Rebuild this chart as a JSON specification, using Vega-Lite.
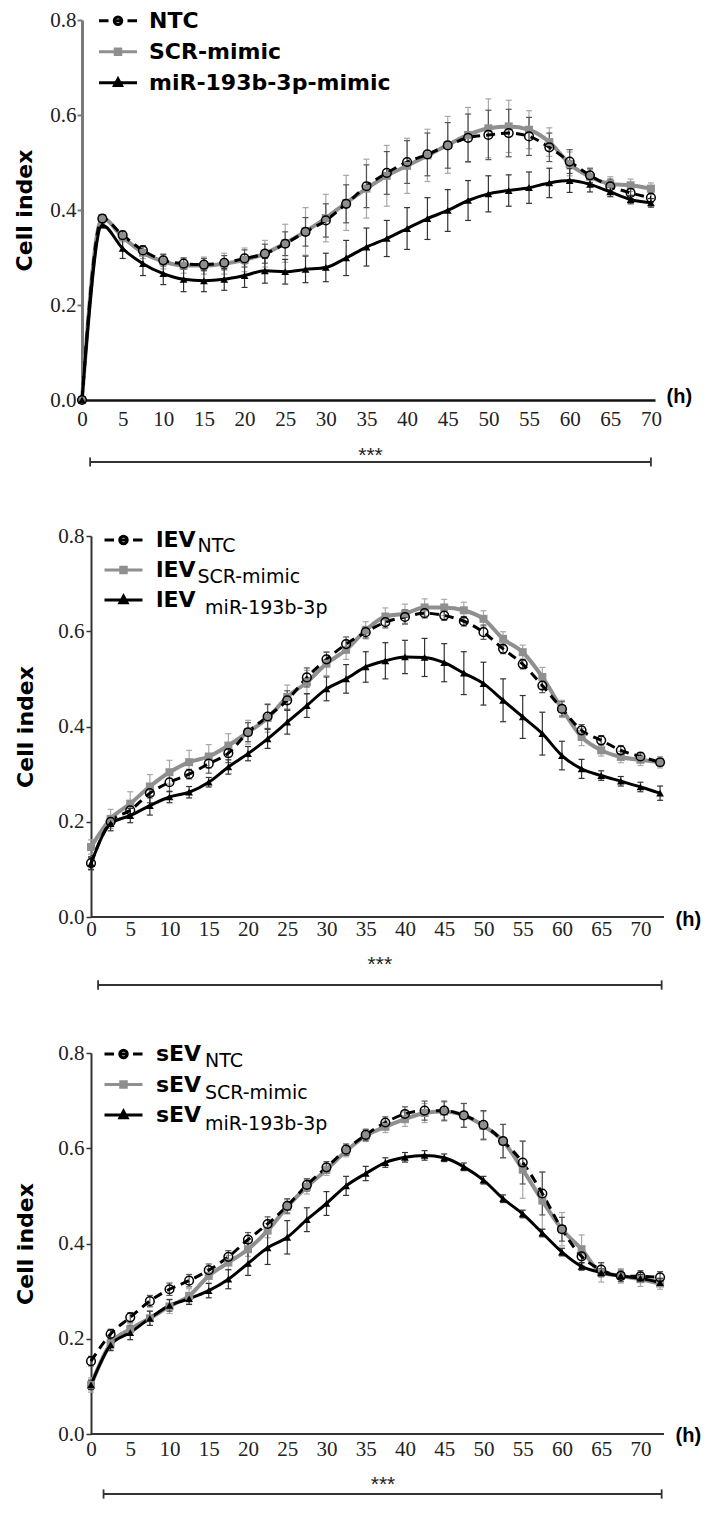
{
"$schema": "https://vega.github.io/schema/vega-lite/v6.json",
"background": "white",
"padding": {"top": 9, "left": 13, "right": 2, "bottom": 5},
"spacing": 136,
"bounds": "flush",
"config": {"view": {"stroke": null}, "axis": {"grid": false, "labelFlush": false, "labelOverlap": false}},
"resolve": {"scale": {"shape": "independent", "size": "independent", "fill": "independent", "stroke": "independent"}},
"datasets": {
"d1": [
{"series":"NTC","hour":0,"value":0,"sd":0},{"series":"NTC","hour":2.5,"value":0.382,"sd":0.005},{"series":"NTC","hour":5,"value":0.347,"sd":0.008},{"series":"NTC","hour":7.5,"value":0.315,"sd":0.01},{"series":"NTC","hour":10,"value":0.294,"sd":0.012},{"series":"NTC","hour":12.5,"value":0.287,"sd":0.012},{"series":"NTC","hour":15,"value":0.285,"sd":0.013},{"series":"NTC","hour":17.5,"value":0.289,"sd":0.015},{"series":"NTC","hour":20,"value":0.298,"sd":0.018},{"series":"NTC","hour":22.5,"value":0.308,"sd":0.02},{"series":"NTC","hour":25,"value":0.329,"sd":0.025},{"series":"NTC","hour":27.5,"value":0.354,"sd":0.03},{"series":"NTC","hour":30,"value":0.378,"sd":0.035},{"series":"NTC","hour":32.5,"value":0.413,"sd":0.04},{"series":"NTC","hour":35,"value":0.45,"sd":0.045},{"series":"NTC","hour":37.5,"value":0.478,"sd":0.045},{"series":"NTC","hour":40,"value":0.501,"sd":0.045},{"series":"NTC","hour":42.5,"value":0.517,"sd":0.045},{"series":"NTC","hour":45,"value":0.536,"sd":0.048},{"series":"NTC","hour":47.5,"value":0.552,"sd":0.05},{"series":"NTC","hour":50,"value":0.558,"sd":0.052},{"series":"NTC","hour":52.5,"value":0.562,"sd":0.05},{"series":"NTC","hour":55,"value":0.555,"sd":0.04},{"series":"NTC","hour":57.5,"value":0.532,"sd":0.03},{"series":"NTC","hour":60,"value":0.502,"sd":0.025},{"series":"NTC","hour":62.5,"value":0.473,"sd":0.015},{"series":"NTC","hour":65,"value":0.45,"sd":0.015},{"series":"NTC","hour":67.5,"value":0.436,"sd":0.012},{"series":"NTC","hour":70,"value":0.426,"sd":0.01},
{"series":"SCR-mimic","hour":0,"value":0,"sd":0},{"series":"SCR-mimic","hour":2.5,"value":0.383,"sd":0.006},{"series":"SCR-mimic","hour":5,"value":0.343,"sd":0.01},{"series":"SCR-mimic","hour":7.5,"value":0.31,"sd":0.012},{"series":"SCR-mimic","hour":10,"value":0.292,"sd":0.016},{"series":"SCR-mimic","hour":12.5,"value":0.283,"sd":0.016},{"series":"SCR-mimic","hour":15,"value":0.283,"sd":0.018},{"series":"SCR-mimic","hour":17.5,"value":0.287,"sd":0.022},{"series":"SCR-mimic","hour":20,"value":0.295,"sd":0.025},{"series":"SCR-mimic","hour":22.5,"value":0.308,"sd":0.028},{"series":"SCR-mimic","hour":25,"value":0.33,"sd":0.04},{"series":"SCR-mimic","hour":27.5,"value":0.355,"sd":0.05},{"series":"SCR-mimic","hour":30,"value":0.383,"sd":0.05},{"series":"SCR-mimic","hour":32.5,"value":0.415,"sd":0.058},{"series":"SCR-mimic","hour":35,"value":0.445,"sd":0.062},{"series":"SCR-mimic","hour":37.5,"value":0.472,"sd":0.064},{"series":"SCR-mimic","hour":40,"value":0.493,"sd":0.058},{"series":"SCR-mimic","hour":42.5,"value":0.515,"sd":0.055},{"series":"SCR-mimic","hour":45,"value":0.537,"sd":0.06},{"series":"SCR-mimic","hour":47.5,"value":0.558,"sd":0.058},{"series":"SCR-mimic","hour":50,"value":0.572,"sd":0.062},{"series":"SCR-mimic","hour":52.5,"value":0.576,"sd":0.055},{"series":"SCR-mimic","hour":55,"value":0.569,"sd":0.04},{"series":"SCR-mimic","hour":57.5,"value":0.543,"sd":0.03},{"series":"SCR-mimic","hour":60,"value":0.497,"sd":0.025},{"series":"SCR-mimic","hour":62.5,"value":0.47,"sd":0.015},{"series":"SCR-mimic","hour":65,"value":0.455,"sd":0.015},{"series":"SCR-mimic","hour":67.5,"value":0.452,"sd":0.013},{"series":"SCR-mimic","hour":70,"value":0.445,"sd":0.012},
{"series":"miR-193b-3p","hour":0,"value":0,"sd":0},{"series":"miR-193b-3p","hour":2.5,"value":0.368,"sd":0.005},{"series":"miR-193b-3p","hour":5,"value":0.319,"sd":0.021},{"series":"miR-193b-3p","hour":7.5,"value":0.287,"sd":0.025},{"series":"miR-193b-3p","hour":10,"value":0.266,"sd":0.023},{"series":"miR-193b-3p","hour":12.5,"value":0.254,"sd":0.026},{"series":"miR-193b-3p","hour":15,"value":0.251,"sd":0.023},{"series":"miR-193b-3p","hour":17.5,"value":0.254,"sd":0.023},{"series":"miR-193b-3p","hour":20,"value":0.262,"sd":0.025},{"series":"miR-193b-3p","hour":22.5,"value":0.272,"sd":0.026},{"series":"miR-193b-3p","hour":25,"value":0.27,"sd":0.026},{"series":"miR-193b-3p","hour":27.5,"value":0.275,"sd":0.028},{"series":"miR-193b-3p","hour":30,"value":0.279,"sd":0.03},{"series":"miR-193b-3p","hour":32.5,"value":0.299,"sd":0.037},{"series":"miR-193b-3p","hour":35,"value":0.322,"sd":0.04},{"series":"miR-193b-3p","hour":37.5,"value":0.34,"sd":0.038},{"series":"miR-193b-3p","hour":40,"value":0.361,"sd":0.044},{"series":"miR-193b-3p","hour":42.5,"value":0.382,"sd":0.044},{"series":"miR-193b-3p","hour":45,"value":0.399,"sd":0.044},{"series":"miR-193b-3p","hour":47.5,"value":0.42,"sd":0.042},{"series":"miR-193b-3p","hour":50,"value":0.434,"sd":0.038},{"series":"miR-193b-3p","hour":52.5,"value":0.441,"sd":0.033},{"series":"miR-193b-3p","hour":55,"value":0.447,"sd":0.033},{"series":"miR-193b-3p","hour":57.5,"value":0.457,"sd":0.031},{"series":"miR-193b-3p","hour":60,"value":0.462,"sd":0.025},{"series":"miR-193b-3p","hour":62.5,"value":0.454,"sd":0.016},{"series":"miR-193b-3p","hour":65,"value":0.438,"sd":0.01},{"series":"miR-193b-3p","hour":67.5,"value":0.422,"sd":0.009},{"series":"miR-193b-3p","hour":70,"value":0.415,"sd":0.009}
],
"d2": [
{"series":"NTC","hour":0,"value":0.113,"sd":0.014},{"series":"NTC","hour":2.5,"value":0.2,"sd":0.01},{"series":"NTC","hour":5,"value":0.224,"sd":0.015},{"series":"NTC","hour":7.5,"value":0.26,"sd":0.02},{"series":"NTC","hour":10,"value":0.283,"sd":0.02},{"series":"NTC","hour":12.5,"value":0.3,"sd":0.01},{"series":"NTC","hour":15,"value":0.322,"sd":0.02},{"series":"NTC","hour":17.5,"value":0.344,"sd":0.02},{"series":"NTC","hour":20,"value":0.388,"sd":0.02},{"series":"NTC","hour":22.5,"value":0.421,"sd":0.025},{"series":"NTC","hour":25,"value":0.455,"sd":0.02},{"series":"NTC","hour":27.5,"value":0.503,"sd":0.02},{"series":"NTC","hour":30,"value":0.541,"sd":0.015},{"series":"NTC","hour":32.5,"value":0.573,"sd":0.015},{"series":"NTC","hour":35,"value":0.598,"sd":0.012},{"series":"NTC","hour":37.5,"value":0.619,"sd":0.012},{"series":"NTC","hour":40,"value":0.63,"sd":0.015},{"series":"NTC","hour":42.5,"value":0.638,"sd":0.01},{"series":"NTC","hour":45,"value":0.633,"sd":0.01},{"series":"NTC","hour":47.5,"value":0.621,"sd":0.01},{"series":"NTC","hour":50,"value":0.598,"sd":0.015},{"series":"NTC","hour":52.5,"value":0.563,"sd":0.01},{"series":"NTC","hour":55,"value":0.531,"sd":0.01},{"series":"NTC","hour":57.5,"value":0.486,"sd":0.015},{"series":"NTC","hour":60,"value":0.437,"sd":0.015},{"series":"NTC","hour":62.5,"value":0.392,"sd":0.012},{"series":"NTC","hour":65,"value":0.371,"sd":0.01},{"series":"NTC","hour":67.5,"value":0.35,"sd":0.01},{"series":"NTC","hour":70,"value":0.337,"sd":0.008},{"series":"NTC","hour":72.5,"value":0.325,"sd":0.008},
{"series":"SCR-mimic","hour":0,"value":0.147,"sd":0.015},{"series":"SCR-mimic","hour":2.5,"value":0.206,"sd":0.02},{"series":"SCR-mimic","hour":5,"value":0.238,"sd":0.025},{"series":"SCR-mimic","hour":7.5,"value":0.274,"sd":0.025},{"series":"SCR-mimic","hour":10,"value":0.304,"sd":0.025},{"series":"SCR-mimic","hour":12.5,"value":0.325,"sd":0.025},{"series":"SCR-mimic","hour":15,"value":0.337,"sd":0.025},{"series":"SCR-mimic","hour":17.5,"value":0.36,"sd":0.025},{"series":"SCR-mimic","hour":20,"value":0.388,"sd":0.025},{"series":"SCR-mimic","hour":22.5,"value":0.418,"sd":0.03},{"series":"SCR-mimic","hour":25,"value":0.462,"sd":0.025},{"series":"SCR-mimic","hour":27.5,"value":0.493,"sd":0.025},{"series":"SCR-mimic","hour":30,"value":0.532,"sd":0.025},{"series":"SCR-mimic","hour":32.5,"value":0.561,"sd":0.02},{"series":"SCR-mimic","hour":35,"value":0.602,"sd":0.018},{"series":"SCR-mimic","hour":37.5,"value":0.631,"sd":0.018},{"series":"SCR-mimic","hour":40,"value":0.637,"sd":0.02},{"series":"SCR-mimic","hour":42.5,"value":0.65,"sd":0.018},{"series":"SCR-mimic","hour":45,"value":0.65,"sd":0.017},{"series":"SCR-mimic","hour":47.5,"value":0.644,"sd":0.017},{"series":"SCR-mimic","hour":50,"value":0.626,"sd":0.017},{"series":"SCR-mimic","hour":52.5,"value":0.584,"sd":0.015},{"series":"SCR-mimic","hour":55,"value":0.556,"sd":0.015},{"series":"SCR-mimic","hour":57.5,"value":0.504,"sd":0.02},{"series":"SCR-mimic","hour":60,"value":0.437,"sd":0.018},{"series":"SCR-mimic","hour":62.5,"value":0.378,"sd":0.018},{"series":"SCR-mimic","hour":65,"value":0.35,"sd":0.012},{"series":"SCR-mimic","hour":67.5,"value":0.336,"sd":0.012},{"series":"SCR-mimic","hour":70,"value":0.33,"sd":0.012},{"series":"SCR-mimic","hour":72.5,"value":0.325,"sd":0.012},
{"series":"miR-193b-3p","hour":0,"value":0.112,"sd":0.012},{"series":"miR-193b-3p","hour":2.5,"value":0.196,"sd":0.015},{"series":"miR-193b-3p","hour":5,"value":0.213,"sd":0.015},{"series":"miR-193b-3p","hour":7.5,"value":0.234,"sd":0.02},{"series":"miR-193b-3p","hour":10,"value":0.252,"sd":0.012},{"series":"miR-193b-3p","hour":12.5,"value":0.262,"sd":0.012},{"series":"miR-193b-3p","hour":15,"value":0.283,"sd":0.01},{"series":"miR-193b-3p","hour":17.5,"value":0.315,"sd":0.015},{"series":"miR-193b-3p","hour":20,"value":0.343,"sd":0.015},{"series":"miR-193b-3p","hour":22.5,"value":0.374,"sd":0.02},{"series":"miR-193b-3p","hour":25,"value":0.409,"sd":0.025},{"series":"miR-193b-3p","hour":27.5,"value":0.444,"sd":0.025},{"series":"miR-193b-3p","hour":30,"value":0.479,"sd":0.025},{"series":"miR-193b-3p","hour":32.5,"value":0.5,"sd":0.03},{"series":"miR-193b-3p","hour":35,"value":0.525,"sd":0.032},{"series":"miR-193b-3p","hour":37.5,"value":0.538,"sd":0.038},{"series":"miR-193b-3p","hour":40,"value":0.546,"sd":0.035},{"series":"miR-193b-3p","hour":42.5,"value":0.545,"sd":0.04},{"series":"miR-193b-3p","hour":45,"value":0.534,"sd":0.04},{"series":"miR-193b-3p","hour":47.5,"value":0.512,"sd":0.045},{"series":"miR-193b-3p","hour":50,"value":0.49,"sd":0.045},{"series":"miR-193b-3p","hour":52.5,"value":0.455,"sd":0.045},{"series":"miR-193b-3p","hour":55,"value":0.42,"sd":0.045},{"series":"miR-193b-3p","hour":57.5,"value":0.385,"sd":0.045},{"series":"miR-193b-3p","hour":60,"value":0.339,"sd":0.03},{"series":"miR-193b-3p","hour":62.5,"value":0.311,"sd":0.02},{"series":"miR-193b-3p","hour":65,"value":0.297,"sd":0.01},{"series":"miR-193b-3p","hour":67.5,"value":0.285,"sd":0.01},{"series":"miR-193b-3p","hour":70,"value":0.273,"sd":0.01},{"series":"miR-193b-3p","hour":72.5,"value":0.26,"sd":0.015}
],
"d3": [
{"series":"NTC","hour":0,"value":0.153,"sd":0.01},{"series":"NTC","hour":2.5,"value":0.21,"sd":0.01},{"series":"NTC","hour":5,"value":0.245,"sd":0.01},{"series":"NTC","hour":7.5,"value":0.279,"sd":0.012},{"series":"NTC","hour":10,"value":0.304,"sd":0.013},{"series":"NTC","hour":12.5,"value":0.322,"sd":0.013},{"series":"NTC","hour":15,"value":0.344,"sd":0.013},{"series":"NTC","hour":17.5,"value":0.372,"sd":0.013},{"series":"NTC","hour":20,"value":0.408,"sd":0.015},{"series":"NTC","hour":22.5,"value":0.441,"sd":0.015},{"series":"NTC","hour":25,"value":0.479,"sd":0.015},{"series":"NTC","hour":27.5,"value":0.523,"sd":0.013},{"series":"NTC","hour":30,"value":0.56,"sd":0.012},{"series":"NTC","hour":32.5,"value":0.597,"sd":0.012},{"series":"NTC","hour":35,"value":0.628,"sd":0.012},{"series":"NTC","hour":37.5,"value":0.654,"sd":0.012},{"series":"NTC","hour":40,"value":0.672,"sd":0.015},{"series":"NTC","hour":42.5,"value":0.679,"sd":0.02},{"series":"NTC","hour":45,"value":0.679,"sd":0.02},{"series":"NTC","hour":47.5,"value":0.669,"sd":0.025},{"series":"NTC","hour":50,"value":0.649,"sd":0.03},{"series":"NTC","hour":52.5,"value":0.615,"sd":0.035},{"series":"NTC","hour":55,"value":0.57,"sd":0.045},{"series":"NTC","hour":57.5,"value":0.505,"sd":0.045},{"series":"NTC","hour":60,"value":0.43,"sd":0.025},{"series":"NTC","hour":62.5,"value":0.373,"sd":0.02},{"series":"NTC","hour":65,"value":0.345,"sd":0.015},{"series":"NTC","hour":67.5,"value":0.332,"sd":0.012},{"series":"NTC","hour":70,"value":0.331,"sd":0.012},{"series":"NTC","hour":72.5,"value":0.329,"sd":0.012},
{"series":"SCR-mimic","hour":0,"value":0.103,"sd":0.015},{"series":"SCR-mimic","hour":2.5,"value":0.19,"sd":0.012},{"series":"SCR-mimic","hour":5,"value":0.22,"sd":0.012},{"series":"SCR-mimic","hour":7.5,"value":0.243,"sd":0.015},{"series":"SCR-mimic","hour":10,"value":0.268,"sd":0.015},{"series":"SCR-mimic","hour":12.5,"value":0.29,"sd":0.015},{"series":"SCR-mimic","hour":15,"value":0.332,"sd":0.015},{"series":"SCR-mimic","hour":17.5,"value":0.36,"sd":0.015},{"series":"SCR-mimic","hour":20,"value":0.388,"sd":0.015},{"series":"SCR-mimic","hour":22.5,"value":0.427,"sd":0.015},{"series":"SCR-mimic","hour":25,"value":0.477,"sd":0.015},{"series":"SCR-mimic","hour":27.5,"value":0.519,"sd":0.015},{"series":"SCR-mimic","hour":30,"value":0.555,"sd":0.012},{"series":"SCR-mimic","hour":32.5,"value":0.594,"sd":0.012},{"series":"SCR-mimic","hour":35,"value":0.626,"sd":0.012},{"series":"SCR-mimic","hour":37.5,"value":0.645,"sd":0.012},{"series":"SCR-mimic","hour":40,"value":0.661,"sd":0.015},{"series":"SCR-mimic","hour":42.5,"value":0.674,"sd":0.02},{"series":"SCR-mimic","hour":45,"value":0.677,"sd":0.02},{"series":"SCR-mimic","hour":47.5,"value":0.669,"sd":0.025},{"series":"SCR-mimic","hour":50,"value":0.647,"sd":0.03},{"series":"SCR-mimic","hour":52.5,"value":0.615,"sd":0.035},{"series":"SCR-mimic","hour":55,"value":0.555,"sd":0.06},{"series":"SCR-mimic","hour":57.5,"value":0.49,"sd":0.06},{"series":"SCR-mimic","hour":60,"value":0.43,"sd":0.035},{"series":"SCR-mimic","hour":62.5,"value":0.388,"sd":0.03},{"series":"SCR-mimic","hour":65,"value":0.339,"sd":0.02},{"series":"SCR-mimic","hour":67.5,"value":0.332,"sd":0.015},{"series":"SCR-mimic","hour":70,"value":0.325,"sd":0.015},{"series":"SCR-mimic","hour":72.5,"value":0.316,"sd":0.012},
{"series":"miR-193b-3p","hour":0,"value":0.103,"sd":0.01},{"series":"miR-193b-3p","hour":2.5,"value":0.187,"sd":0.012},{"series":"miR-193b-3p","hour":5,"value":0.213,"sd":0.015},{"series":"miR-193b-3p","hour":7.5,"value":0.243,"sd":0.015},{"series":"miR-193b-3p","hour":10,"value":0.27,"sd":0.012},{"series":"miR-193b-3p","hour":12.5,"value":0.284,"sd":0.012},{"series":"miR-193b-3p","hour":15,"value":0.301,"sd":0.015},{"series":"miR-193b-3p","hour":17.5,"value":0.325,"sd":0.02},{"series":"miR-193b-3p","hour":20,"value":0.358,"sd":0.025},{"series":"miR-193b-3p","hour":22.5,"value":0.391,"sd":0.035},{"series":"miR-193b-3p","hour":25,"value":0.413,"sd":0.035},{"series":"miR-193b-3p","hour":27.5,"value":0.45,"sd":0.025},{"series":"miR-193b-3p","hour":30,"value":0.484,"sd":0.025},{"series":"miR-193b-3p","hour":32.5,"value":0.521,"sd":0.02},{"series":"miR-193b-3p","hour":35,"value":0.547,"sd":0.015},{"series":"miR-193b-3p","hour":37.5,"value":0.57,"sd":0.01},{"series":"miR-193b-3p","hour":40,"value":0.581,"sd":0.01},{"series":"miR-193b-3p","hour":42.5,"value":0.585,"sd":0.01},{"series":"miR-193b-3p","hour":45,"value":0.58,"sd":0.008},{"series":"miR-193b-3p","hour":47.5,"value":0.561,"sd":0.008},{"series":"miR-193b-3p","hour":50,"value":0.533,"sd":0.008},{"series":"miR-193b-3p","hour":52.5,"value":0.494,"sd":0.008},{"series":"miR-193b-3p","hour":55,"value":0.462,"sd":0.008},{"series":"miR-193b-3p","hour":57.5,"value":0.422,"sd":0.008},{"series":"miR-193b-3p","hour":60,"value":0.382,"sd":0.008},{"series":"miR-193b-3p","hour":62.5,"value":0.352,"sd":0.008},{"series":"miR-193b-3p","hour":65,"value":0.339,"sd":0.008},{"series":"miR-193b-3p","hour":67.5,"value":0.332,"sd":0.008},{"series":"miR-193b-3p","hour":70,"value":0.327,"sd":0.008},{"series":"miR-193b-3p","hour":72.5,"value":0.318,"sd":0.008}
]
},
"vconcat": [
{
"width": 573, "height": 380,
"data": {"name": "d1"},
"layer": [
{"encoding": {
"x": {"field": "hour", "type": "quantitative", "scale": {"domain": [0, 70.5], "nice": false, "zero": false},
"axis": {"values": [0,5,10,15,20,25,30,35,40,45,50,55,60,65,70], "title": "(h)", "titleX": 584, "titleY": -3.3, "titleAlign": "left", "titleBaseline": "middle", "titleAngle": 0, "titleFont": "Liberation Sans", "titleFontSize": 20, "titleFontWeight": "bold", "titleColor": "black", "labelFont": "Liberation Sans Narrow", "labelFontSize": 21, "labelColor": "#222222", "labelPadding": 8, "ticks": false, "domainColor": "#111111", "domainWidth": 2.5}},
"y": {"field": "value", "type": "quantitative", "scale": {"domain": [0, 0.8], "nice": false},
"axis": {"values": [0,0.2,0.4,0.6,0.8], "format": ".1f", "title": "Cell index", "titleFont": "DejaVu Sans", "titleFontSize": 22, "titleFontWeight": "bold", "titleColor": "black", "titlePadding": 13, "labelFont": "Liberation Sans Narrow", "labelFontSize": 21, "labelColor": "#222222", "labelPadding": 1, "tickSize": 5, "tickColor": "#7a7a7a", "tickWidth": 2, "domainColor": "#7a7a7a", "domainWidth": 3}}
},
"layer": [
{"transform": [{"filter": "datum.series === 'SCR-mimic'"}], "mark": {"type": "errorbar", "ticks": true, "size": 6, "thickness": 1.2, "opacity": 1, "color": "#a8a8a8"}, "encoding": {"yError": {"field": "sd"}}},
{"transform": [{"filter": "datum.series === 'NTC'"}], "mark": {"type": "errorbar", "ticks": true, "size": 6, "thickness": 1.2, "opacity": 1, "color": "#555555"}, "encoding": {"yError": {"field": "sd"}}},
{"transform": [{"filter": "datum.series === 'miR-193b-3p'"}], "mark": {"type": "errorbar", "ticks": true, "size": 6, "thickness": 1.2, "opacity": 1, "color": "#333333"}, "encoding": {"yError": {"field": "sd"}}},
{"transform": [{"filter": "datum.series === 'SCR-mimic'"}], "mark": {"type": "line", "color": "#8f8f8f", "strokeWidth": 4, "interpolate": "monotone"}, "encoding": {}},
{"transform": [{"filter": "datum.series === 'NTC'"}], "mark": {"type": "line", "color": "black", "strokeWidth": 3, "strokeDash": [9, 6], "interpolate": "monotone"}, "encoding": {}},
{"transform": [{"filter": "datum.series === 'miR-193b-3p'"}], "mark": {"type": "line", "color": "black", "strokeWidth": 3, "interpolate": "monotone"}, "encoding": {}},
{"transform": [{"filter": "datum.series === 'SCR-mimic'"}], "mark": {"type": "point", "shape": "square", "filled": true, "color": "#8f8f8f", "size": 64, "opacity": 1}, "encoding": {}},
{"transform": [{"filter": "datum.series === 'NTC'"}], "mark": {"type": "point", "shape": "circle", "filled": false, "color": "black", "strokeWidth": 1.5, "size": 75, "opacity": 1}, "encoding": {}},
{"transform": [{"filter": "datum.series === 'miR-193b-3p'"}], "mark": {"type": "point", "shape": "triangle-up", "filled": true, "color": "black", "size": 60, "opacity": 1}, "encoding": {}},
{"mark": {"type": "point", "opacity": 0, "filled": true}, "encoding": {
"shape": {"field": "series", "type": "nominal", "scale": {"domain": ["NTC","SCR-mimic","miR-193b-3p"], "range": ["M-3.8,0H-1.9M1.9,0H3.8M0.75,0A0.75,0.75,0,1,1,-0.75,0A0.75,0.75,0,1,1,0.75,0ZM-0.75,0H0.75", "M-3.8,0H3.8M-0.55,-0.55H0.55V0.55H-0.55Z", "M-3.8,0H3.8M0,-0.75L0.7,0.55H-0.7Z"]},
"legend": {"orient": "none", "legendX": 17, "legendY": -10.3, "title": null, "direction": "vertical", "padding": 0, "symbolSize": 100, "symbolStrokeWidth": 3, "symbolOffset": 8, "labelOffset": 20, "rowPadding": 9, "labelFont": "DejaVu Sans", "labelFontSize": 22, "labelFontWeight": "bold", "labelColor": "black", "labelLimit": 0, "symbolOpacity": 1, "labelExpr": "datum.value === 'miR-193b-3p' ? 'miR-193b-3p-mimic' : datum.value"}},
"fill": {"field": "series", "type": "nominal", "scale": {"domain": ["NTC","SCR-mimic","miR-193b-3p"], "range": ["transparent", "#8f8f8f", "black"]},
"legend": {"orient": "none", "legendX": 17, "legendY": -10.3, "title": null, "direction": "vertical", "padding": 0, "symbolSize": 100, "symbolStrokeWidth": 3, "symbolOffset": 8, "labelOffset": 20, "rowPadding": 9, "labelFont": "DejaVu Sans", "labelFontSize": 22, "labelFontWeight": "bold", "labelColor": "black", "labelLimit": 0, "symbolOpacity": 1, "labelExpr": "datum.value === 'miR-193b-3p' ? 'miR-193b-3p-mimic' : datum.value"}},
"stroke": {"field": "series", "type": "nominal", "scale": {"domain": ["NTC","SCR-mimic","miR-193b-3p"], "range": ["black", "#8f8f8f", "black"]},
"legend": {"orient": "none", "legendX": 17, "legendY": -10.3, "title": null, "direction": "vertical", "padding": 0, "symbolSize": 100, "symbolStrokeWidth": 3, "symbolOffset": 8, "labelOffset": 20, "rowPadding": 9, "labelFont": "DejaVu Sans", "labelFontSize": 22, "labelFontWeight": "bold", "labelColor": "black", "labelLimit": 0, "symbolOpacity": 1, "labelExpr": "datum.value === 'miR-193b-3p' ? 'miR-193b-3p-mimic' : datum.value"}}
}}
]},
{"data": {"values": [{"label": "***"}]}, "mark": {"type": "rule", "color": "#333333", "strokeWidth": 1.8}, "encoding": {"x": {"datum": 1}, "x2": {"datum": 70}, "y": {"datum": -0.1305}}},
{"data": {"values": [{"label": "***"}]}, "mark": {"type": "rule", "color": "#333333", "strokeWidth": 1.8}, "encoding": {"x": {"datum": 1}, "y": {"datum": -0.14}, "y2": {"datum": -0.121}}},
{"data": {"values": [{"label": "***"}]}, "mark": {"type": "rule", "color": "#333333", "strokeWidth": 1.8}, "encoding": {"x": {"datum": 70}, "y": {"datum": -0.14}, "y2": {"datum": -0.121}}},
{"data": {"values": [{"label": "***"}]}, "mark": {"type": "text", "font": "Liberation Sans", "fontSize": 21, "baseline": "alphabetic", "align": "center", "color": "#222222"}, "encoding": {"text": {"field": "label"}, "x": {"datum": 35.5}, "y": {"datum": -0.1305}}}
]
},
{
"width": 582, "height": 381,
"data": {"name": "d2"},
"layer": [
{"encoding": {
"x": {"field": "hour", "type": "quantitative", "scale": {"domain": [-1.146, 73], "nice": false, "zero": false},
"axis": {"values": [0,5,10,15,20,25,30,35,40,45,50,55,60,65,70], "title": "(h)", "titleX": 593, "titleY": 2, "titleAlign": "left", "titleBaseline": "middle", "titleAngle": 0, "titleFont": "Liberation Sans", "titleFontSize": 20, "titleFontWeight": "bold", "titleColor": "black", "labelFont": "Liberation Sans Narrow", "labelFontSize": 21, "labelColor": "#222222", "labelPadding": 1, "ticks": false, "domain": false}},
"y": {"field": "value", "type": "quantitative", "scale": {"domain": [0, 0.8], "nice": false},
"axis": {"values": [0,0.2,0.4,0.6,0.8], "format": ".1f", "title": "Cell index", "titleFont": "DejaVu Sans", "titleFontSize": 22, "titleFontWeight": "bold", "titleColor": "black", "titlePadding": 20, "labelFont": "Liberation Sans Narrow", "labelFontSize": 21, "labelColor": "#222222", "labelPadding": 2, "tickSize": 5, "tickColor": "#333333", "tickWidth": 1.5, "domainColor": "#333333", "domainWidth": 2, "offset": -9}}
},
"layer": [
{"transform": [{"filter": "datum.series === 'SCR-mimic'"}], "mark": {"type": "errorbar", "ticks": true, "size": 6, "thickness": 1.2, "opacity": 1, "color": "#a8a8a8"}, "encoding": {"yError": {"field": "sd"}}},
{"transform": [{"filter": "datum.series === 'NTC'"}], "mark": {"type": "errorbar", "ticks": true, "size": 6, "thickness": 1.2, "opacity": 1, "color": "#555555"}, "encoding": {"yError": {"field": "sd"}}},
{"transform": [{"filter": "datum.series === 'miR-193b-3p'"}], "mark": {"type": "errorbar", "ticks": true, "size": 6, "thickness": 1.2, "opacity": 1, "color": "#333333"}, "encoding": {"yError": {"field": "sd"}}},
{"transform": [{"filter": "datum.series === 'SCR-mimic'"}], "mark": {"type": "line", "color": "#8f8f8f", "strokeWidth": 4, "interpolate": "monotone"}, "encoding": {}},
{"transform": [{"filter": "datum.series === 'NTC'"}], "mark": {"type": "line", "color": "black", "strokeWidth": 3, "strokeDash": [9, 6], "interpolate": "monotone"}, "encoding": {}},
{"transform": [{"filter": "datum.series === 'miR-193b-3p'"}], "mark": {"type": "line", "color": "black", "strokeWidth": 3, "interpolate": "monotone"}, "encoding": {}},
{"transform": [{"filter": "datum.series === 'SCR-mimic'"}], "mark": {"type": "point", "shape": "square", "filled": true, "color": "#8f8f8f", "size": 64, "opacity": 1}, "encoding": {}},
{"transform": [{"filter": "datum.series === 'NTC'"}], "mark": {"type": "point", "shape": "circle", "filled": false, "color": "black", "strokeWidth": 1.5, "size": 75, "opacity": 1}, "encoding": {}},
{"transform": [{"filter": "datum.series === 'miR-193b-3p'"}], "mark": {"type": "point", "shape": "triangle-up", "filled": true, "color": "black", "size": 60, "opacity": 1}, "encoding": {}},
{"mark": {"type": "point", "opacity": 0, "filled": true}, "encoding": {
"shape": {"field": "series", "type": "nominal", "scale": {"domain": ["NTC","SCR-mimic","miR-193b-3p"], "range": ["M-3.8,0H-1.9M1.9,0H3.8M0.75,0A0.75,0.75,0,1,1,-0.75,0A0.75,0.75,0,1,1,0.75,0ZM-0.75,0H0.75", "M-3.8,0H3.8M-0.55,-0.55H0.55V0.55H-0.55Z", "M-3.8,0H3.8M0,-0.75L0.7,0.55H-0.7Z"]},
"legend": {"orient": "none", "legendX": 22.5, "legendY": -7, "title": null, "direction": "vertical", "padding": 0, "symbolSize": 100, "symbolStrokeWidth": 3, "symbolOffset": 8, "labelOffset": 21.5, "rowPadding": 8, "labelFont": "DejaVu Sans", "labelFontSize": 22, "labelFontWeight": "bold", "labelColor": "black", "labelLimit": 0, "symbolOpacity": 1, "labelExpr": "'lEV'"}},
"fill": {"field": "series", "type": "nominal", "scale": {"domain": ["NTC","SCR-mimic","miR-193b-3p"], "range": ["transparent", "#8f8f8f", "black"]},
"legend": {"orient": "none", "legendX": 22.5, "legendY": -7, "title": null, "direction": "vertical", "padding": 0, "symbolSize": 100, "symbolStrokeWidth": 3, "symbolOffset": 8, "labelOffset": 21.5, "rowPadding": 8, "labelFont": "DejaVu Sans", "labelFontSize": 22, "labelFontWeight": "bold", "labelColor": "black", "labelLimit": 0, "symbolOpacity": 1, "labelExpr": "'lEV'"}},
"stroke": {"field": "series", "type": "nominal", "scale": {"domain": ["NTC","SCR-mimic","miR-193b-3p"], "range": ["black", "#8f8f8f", "black"]},
"legend": {"orient": "none", "legendX": 22.5, "legendY": -7, "title": null, "direction": "vertical", "padding": 0, "symbolSize": 100, "symbolStrokeWidth": 3, "symbolOffset": 8, "labelOffset": 21.5, "rowPadding": 8, "labelFont": "DejaVu Sans", "labelFontSize": 22, "labelFontWeight": "bold", "labelColor": "black", "labelLimit": 0, "symbolOpacity": 1, "labelExpr": "'lEV'"}}
}},
{"mark": {"type": "point", "opacity": 0}, "encoding": {"size": {"field": "series", "type": "nominal", "scale": {"range": [1, 4]},
"legend": {"orient": "none", "legendX": 96.5, "legendY": 0.5, "title": null, "direction": "vertical", "padding": 0, "symbolStrokeWidth": 0, "symbolOpacity": 0, "labelOffset": 0, "rowPadding": 11, "labelFont": "DejaVu Sans", "labelFontSize": 19, "labelFontWeight": "normal", "labelColor": "black", "labelLimit": 0,
"labelExpr": "datum.value === 'miR-193b-3p' ? '\u200b\u2009\u2009miR-193b-3p' : datum.value"}}}}
]},
{"data": {"values": [{"label": "***"}]}, "mark": {"type": "rule", "color": "#333333", "strokeWidth": 2}, "encoding": {"x": {"datum": 0}, "x2": {"datum": 73}, "y": {"datum": 0}}},
{"data": {"values": [{"label": "***"}]}, "mark": {"type": "rule", "color": "#333333", "strokeWidth": 1.8}, "encoding": {"x": {"datum": 0.9}, "x2": {"datum": 72.7}, "y": {"datum": -0.1428}}},
{"data": {"values": [{"label": "***"}]}, "mark": {"type": "rule", "color": "#333333", "strokeWidth": 1.8}, "encoding": {"x": {"datum": 0.9}, "y": {"datum": -0.1525}, "y2": {"datum": -0.133}}},
{"data": {"values": [{"label": "***"}]}, "mark": {"type": "rule", "color": "#333333", "strokeWidth": 1.8}, "encoding": {"x": {"datum": 72.7}, "y": {"datum": -0.1525}, "y2": {"datum": -0.133}}},
{"data": {"values": [{"label": "***"}]}, "mark": {"type": "text", "font": "Liberation Sans", "fontSize": 21, "baseline": "alphabetic", "align": "center", "color": "#222222"}, "encoding": {"text": {"field": "label"}, "x": {"datum": 36.8}, "y": {"datum": -0.1135}}}
]
},
{
"width": 582, "height": 381,
"data": {"name": "d3"},
"layer": [
{"encoding": {
"x": {"field": "hour", "type": "quantitative", "scale": {"domain": [-1.146, 73], "nice": false, "zero": false},
"axis": {"values": [0,5,10,15,20,25,30,35,40,45,50,55,60,65,70], "title": "(h)", "titleX": 593, "titleY": 1, "titleAlign": "left", "titleBaseline": "middle", "titleAngle": 0, "titleFont": "Liberation Sans", "titleFontSize": 20, "titleFontWeight": "bold", "titleColor": "black", "labelFont": "Liberation Sans Narrow", "labelFontSize": 21, "labelColor": "#222222", "labelPadding": 4.5, "ticks": false, "domain": false}},
"y": {"field": "value", "type": "quantitative", "scale": {"domain": [0, 0.8], "nice": false},
"axis": {"values": [0,0.2,0.4,0.6,0.8], "format": ".1f", "title": "Cell index", "titleFont": "DejaVu Sans", "titleFontSize": 22, "titleFontWeight": "bold", "titleColor": "black", "titlePadding": 20, "labelFont": "Liberation Sans Narrow", "labelFontSize": 21, "labelColor": "#222222", "labelPadding": 2, "tickSize": 5, "tickColor": "#333333", "tickWidth": 1.5, "domainColor": "#333333", "domainWidth": 2, "offset": -9}}
},
"layer": [
{"transform": [{"filter": "datum.series === 'SCR-mimic'"}], "mark": {"type": "errorbar", "ticks": true, "size": 6, "thickness": 1.2, "opacity": 1, "color": "#a8a8a8"}, "encoding": {"yError": {"field": "sd"}}},
{"transform": [{"filter": "datum.series === 'NTC'"}], "mark": {"type": "errorbar", "ticks": true, "size": 6, "thickness": 1.2, "opacity": 1, "color": "#555555"}, "encoding": {"yError": {"field": "sd"}}},
{"transform": [{"filter": "datum.series === 'miR-193b-3p'"}], "mark": {"type": "errorbar", "ticks": true, "size": 6, "thickness": 1.2, "opacity": 1, "color": "#333333"}, "encoding": {"yError": {"field": "sd"}}},
{"transform": [{"filter": "datum.series === 'SCR-mimic'"}], "mark": {"type": "line", "color": "#8f8f8f", "strokeWidth": 4, "interpolate": "monotone"}, "encoding": {}},
{"transform": [{"filter": "datum.series === 'NTC'"}], "mark": {"type": "line", "color": "black", "strokeWidth": 3, "strokeDash": [9, 6], "interpolate": "monotone"}, "encoding": {}},
{"transform": [{"filter": "datum.series === 'miR-193b-3p'"}], "mark": {"type": "line", "color": "black", "strokeWidth": 3, "interpolate": "monotone"}, "encoding": {}},
{"transform": [{"filter": "datum.series === 'SCR-mimic'"}], "mark": {"type": "point", "shape": "square", "filled": true, "color": "#8f8f8f", "size": 64, "opacity": 1}, "encoding": {}},
{"transform": [{"filter": "datum.series === 'NTC'"}], "mark": {"type": "point", "shape": "circle", "filled": false, "color": "black", "strokeWidth": 1.5, "size": 75, "opacity": 1}, "encoding": {}},
{"transform": [{"filter": "datum.series === 'miR-193b-3p'"}], "mark": {"type": "point", "shape": "triangle-up", "filled": true, "color": "black", "size": 60, "opacity": 1}, "encoding": {}},
{"mark": {"type": "point", "opacity": 0, "filled": true}, "encoding": {
"shape": {"field": "series", "type": "nominal", "scale": {"domain": ["NTC","SCR-mimic","miR-193b-3p"], "range": ["M-3.8,0H-1.9M1.9,0H3.8M0.75,0A0.75,0.75,0,1,1,-0.75,0A0.75,0.75,0,1,1,0.75,0ZM-0.75,0H0.75", "M-3.8,0H3.8M-0.55,-0.55H0.55V0.55H-0.55Z", "M-3.8,0H3.8M0,-0.75L0.7,0.55H-0.7Z"]},
"legend": {"orient": "none", "legendX": 22.5, "legendY": -10, "title": null, "direction": "vertical", "padding": 0, "symbolSize": 100, "symbolStrokeWidth": 3, "symbolOffset": 8, "labelOffset": 21.5, "rowPadding": 8.5, "labelFont": "DejaVu Sans", "labelFontSize": 22, "labelFontWeight": "bold", "labelColor": "black", "labelLimit": 0, "symbolOpacity": 1, "labelExpr": "'sEV'"}},
"fill": {"field": "series", "type": "nominal", "scale": {"domain": ["NTC","SCR-mimic","miR-193b-3p"], "range": ["transparent", "#8f8f8f", "black"]},
"legend": {"orient": "none", "legendX": 22.5, "legendY": -10, "title": null, "direction": "vertical", "padding": 0, "symbolSize": 100, "symbolStrokeWidth": 3, "symbolOffset": 8, "labelOffset": 21.5, "rowPadding": 8.5, "labelFont": "DejaVu Sans", "labelFontSize": 22, "labelFontWeight": "bold", "labelColor": "black", "labelLimit": 0, "symbolOpacity": 1, "labelExpr": "'sEV'"}},
"stroke": {"field": "series", "type": "nominal", "scale": {"domain": ["NTC","SCR-mimic","miR-193b-3p"], "range": ["black", "#8f8f8f", "black"]},
"legend": {"orient": "none", "legendX": 22.5, "legendY": -10, "title": null, "direction": "vertical", "padding": 0, "symbolSize": 100, "symbolStrokeWidth": 3, "symbolOffset": 8, "labelOffset": 21.5, "rowPadding": 8.5, "labelFont": "DejaVu Sans", "labelFontSize": 22, "labelFontWeight": "bold", "labelColor": "black", "labelLimit": 0, "symbolOpacity": 1, "labelExpr": "'sEV'"}}
}},
{"mark": {"type": "point", "opacity": 0}, "encoding": {"size": {"field": "series", "type": "nominal", "scale": {"range": [1, 4]},
"legend": {"orient": "none", "legendX": 104, "legendY": -1.5, "title": null, "direction": "vertical", "padding": 0, "symbolStrokeWidth": 0, "symbolOpacity": 0, "labelOffset": 0, "rowPadding": 11.5, "labelFont": "DejaVu Sans", "labelFontSize": 19, "labelFontWeight": "normal", "labelColor": "black", "labelLimit": 0}}}}
]},
{"data": {"values": [{"label": "***"}]}, "mark": {"type": "rule", "color": "#333333", "strokeWidth": 2}, "encoding": {"x": {"datum": 0}, "x2": {"datum": 73}, "y": {"datum": 0}}},
{"data": {"values": [{"label": "***"}]}, "mark": {"type": "rule", "color": "#333333", "strokeWidth": 1.8}, "encoding": {"x": {"datum": 1.6}, "x2": {"datum": 72.7}, "y": {"datum": -0.126}}},
{"data": {"values": [{"label": "***"}]}, "mark": {"type": "rule", "color": "#333333", "strokeWidth": 1.8}, "encoding": {"x": {"datum": 1.6}, "y": {"datum": -0.1357}, "y2": {"datum": -0.1163}}},
{"data": {"values": [{"label": "***"}]}, "mark": {"type": "rule", "color": "#333333", "strokeWidth": 1.8}, "encoding": {"x": {"datum": 72.7}, "y": {"datum": -0.1357}, "y2": {"datum": -0.1163}}},
{"data": {"values": [{"label": "***"}]}, "mark": {"type": "text", "font": "Liberation Sans", "fontSize": 21, "baseline": "alphabetic", "align": "center", "color": "#222222"}, "encoding": {"text": {"field": "label"}, "x": {"datum": 37.2}, "y": {"datum": -0.12}}}
]
}
]
}
